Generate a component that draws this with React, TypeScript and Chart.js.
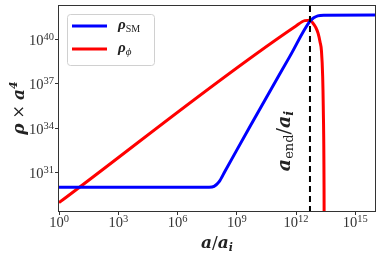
import React, { useEffect, useRef } from "react";
import { Chart, registerables } from "chart.js";

Chart.register(...registerables);

// a/a_i values and rho*a^4 values
const smX = [1, 4e7, 7.1e7, 1.26e8, 2.5e8, 4.6e9, 4.8e11, 5e12, 7.9e12, 1.26e13, 2.5e13, 1e16];
const smY = [1.1e30, 1.1e30, 1.26e30, 2.5e30, 1.26e31, 1.3e34, 6.8e38, 1.6e41, 2.8e41, 3.8e41, 4.2e41, 4.3e41];
const phiX = [1, 1e12, 2.8e12, 5e12, 7.1e12, 1e13, 1.32e13, 1.66e13, 1.95e13, 2.24e13, 2.4e13, 2.63e13, 2.75e13];
const phiY = [1e29, 7.9e40, 1.8e41, 1.9e41, 1.26e41, 6.3e40, 2.5e40, 6.3e39, 1.6e39, 3.2e37, 3.2e35, 1e30, 1e20];
const aEnd = 5.1e12;

const xTickExp = [0, 3, 6, 9, 12, 15];
const yTickExp = [31, 34, 37, 40];
const xMin = 1;
const xMax = 1e16;
const yMin = 2.75e28;
const yMax = 1.74e42;

const SERIF = "'Liberation Serif', 'DejaVu Serif', serif";
const MATH = "'DejaVu Serif', serif";
const TXT = "#222";

type Seg = { t: string; font: string; dy?: number };

function richWidth(ctx: CanvasRenderingContext2D, segs: Seg[]) {
  let w = 0;
  for (const s of segs) {
    ctx.font = s.font;
    w += ctx.measureText(s.t).width;
  }
  return w;
}

function drawRich(ctx: CanvasRenderingContext2D, x: number, y: number, segs: Seg[], align: "left" | "center" | "right") {
  const w = richWidth(ctx, segs);
  let cx = align === "left" ? x : align === "center" ? x - w / 2 : x - w;
  ctx.textAlign = "left";
  ctx.textBaseline = "alphabetic";
  for (const s of segs) {
    ctx.font = s.font;
    ctx.fillText(s.t, cx, y + (s.dy || 0));
    cx += ctx.measureText(s.t).width;
  }
}

const decor = {
  id: "decor",
  afterDatasetsDraw(chart: any) {
    const ctx: CanvasRenderingContext2D = chart.ctx;
    const { left, right, top, bottom } = chart.chartArea;
    const xs = chart.scales.x;
    const ys = chart.scales.y;
    ctx.save();
    // dashed line
    const xe = xs.getPixelForValue(aEnd);
    ctx.strokeStyle = "#000";
    ctx.lineWidth = 2;
    ctx.setLineDash([6, 4]);
    ctx.beginPath();
    ctx.moveTo(xe, top);
    ctx.lineTo(xe, bottom);
    ctx.stroke();
    ctx.setLineDash([]);
    // frame
    ctx.strokeStyle = "#333";
    ctx.lineWidth = 1;
    ctx.strokeRect(left - 0.5, top - 0.5, right - left + 1, bottom - top + 1);

    ctx.fillStyle = "#333";
    // tick labels
    const big = `14.5px ${SERIF}`;
    const small = `10.5px ${SERIF}`;
    for (const e of xTickExp) {
      const px = xs.getPixelForValue(Math.pow(10, e));
      drawRich(ctx, px, 227, [{ t: "10", font: big }, { t: String(e), font: small, dy: -5 }], "center");
    }
    for (const e of yTickExp) {
      const py = ys.getPixelForValue(Math.pow(10, e));
      drawRich(ctx, 54, py + 5.5, [{ t: "10", font: big }, { t: String(e), font: small, dy: -5 }], "right");
    }

    ctx.fillStyle = TXT;
    const bi = `bold italic 17px ${MATH}`;
    const bis = `bold italic 11px ${MATH}`;
    const reg = `17px ${MATH}`;
    // x title
    drawRich(ctx, 217, 248, [
      { t: "a", font: bi },
      { t: "/", font: reg },
      { t: "a", font: bi },
      { t: "i", font: bis, dy: 3 },
    ], "center");
    // y title
    ctx.save();
    ctx.translate(24, 108);
    ctx.rotate(-Math.PI / 2);
    drawRich(ctx, 0, 0, [
      { t: "ρ", font: bi },
      { t: " × ", font: `16px ${MATH}` },
      { t: "a", font: bi },
      { t: "4", font: bis, dy: -7 },
    ], "center");
    ctx.restore();
    // annotation
    ctx.save();
    ctx.translate(290, 141);
    ctx.rotate(-Math.PI / 2);
    drawRich(ctx, 0, 0, [
      { t: "a", font: `bold italic 19px ${MATH}` },
      { t: "end", font: `13px ${MATH}`, dy: 3 },
      { t: "/", font: `19px ${MATH}` },
      { t: "a", font: `bold italic 19px ${MATH}` },
      { t: "i", font: `bold italic 13px ${MATH}`, dy: 3 },
    ], "center");
    ctx.restore();

    // legend
    const bx = 67.5, by = 14.5, bw = 87, bh = 51, r = 3;
    ctx.beginPath();
    ctx.moveTo(bx + r, by);
    ctx.lineTo(bx + bw - r, by);
    ctx.arcTo(bx + bw, by, bx + bw, by + r, r);
    ctx.lineTo(bx + bw, by + bh - r);
    ctx.arcTo(bx + bw, by + bh, bx + bw - r, by + bh, r);
    ctx.lineTo(bx + r, by + bh);
    ctx.arcTo(bx, by + bh, bx, by + bh - r, r);
    ctx.lineTo(bx, by + r);
    ctx.arcTo(bx, by, bx + r, by, r);
    ctx.closePath();
    ctx.fillStyle = "rgba(255,255,255,0.8)";
    ctx.fill();
    ctx.strokeStyle = "#d0d0d0";
    ctx.lineWidth = 1;
    ctx.stroke();
    const rows = [
      { c: "#0000ff", y: 26, sub: "SM", subFont: `10px ${SERIF}` },
      { c: "#ff0000", y: 49, sub: "ϕ", subFont: `italic 11px ${SERIF}` },
    ];
    for (const row of rows) {
      ctx.strokeStyle = row.c;
      ctx.lineWidth = 3;
      ctx.beginPath();
      ctx.moveTo(72, row.y);
      ctx.lineTo(107, row.y);
      ctx.stroke();
      ctx.fillStyle = TXT;
      drawRich(ctx, 118, row.y + 3, [
        { t: "ρ", font: `bold italic 15px ${SERIF}` },
        { t: row.sub, font: row.subFont, dy: 2.5 },
      ], "left");
    }
    ctx.restore();
  },
};

export default function App() {
  const ref = useRef<HTMLCanvasElement | null>(null);
  useEffect(() => {
    document.body.style.margin = "0";
    const canvas = ref.current!;
    const tickGrid = {
      display: true,
      drawOnChartArea: false,
      drawTicks: true,
      tickLength: 4,
      color: "#333",
      lineWidth: 1,
    };
    const chart = new Chart(canvas, {
      type: "scatter",
      data: {
        datasets: [
          {
            label: "rho_SM",
            data: smX.map((x, i) => ({ x, y: smY[i] })),
            showLine: true,
            borderColor: "#0000ff",
            borderWidth: 3,
            pointRadius: 0,
            cubicInterpolationMode: "monotone",
          },
          {
            label: "rho_phi",
            data: phiX.map((x, i) => ({ x, y: phiY[i] })),
            showLine: true,
            borderColor: "#ff0000",
            borderWidth: 3,
            pointRadius: 0,
            cubicInterpolationMode: "monotone",
          },
        ],
      },
      options: {
        responsive: false,
        animation: false,
        layout: { padding: { top: 6, right: 7, left: 0, bottom: 0 } },
        plugins: { legend: { display: false }, tooltip: { enabled: false } },
        scales: {
          x: {
            type: "logarithmic",
            min: xMin,
            max: xMax,
            grid: tickGrid,
            border: { display: false },
            ticks: { display: false },
            afterBuildTicks: (s: any) => {
              s.ticks = xTickExp.map((e) => ({ value: Math.pow(10, e) }));
            },
            afterFit: (s: any) => {
              s.height = 48;
            },
          },
          y: {
            type: "logarithmic",
            min: yMin,
            max: yMax,
            grid: tickGrid,
            border: { display: false },
            ticks: { display: false },
            afterBuildTicks: (s: any) => {
              s.ticks = yTickExp.map((e) => ({ value: Math.pow(10, e) }));
            },
            afterFit: (s: any) => {
              s.width = 59;
            },
          },
        },
      },
      plugins: [decor],
    } as any);
    return () => chart.destroy();
  }, []);
  return (
    <div style={{ position: "fixed", left: 0, top: 0, width: 382, height: 259 }}>
      <canvas ref={ref} width={382} height={259} style={{ width: 382, height: 259 }} />
    </div>
  );
}
